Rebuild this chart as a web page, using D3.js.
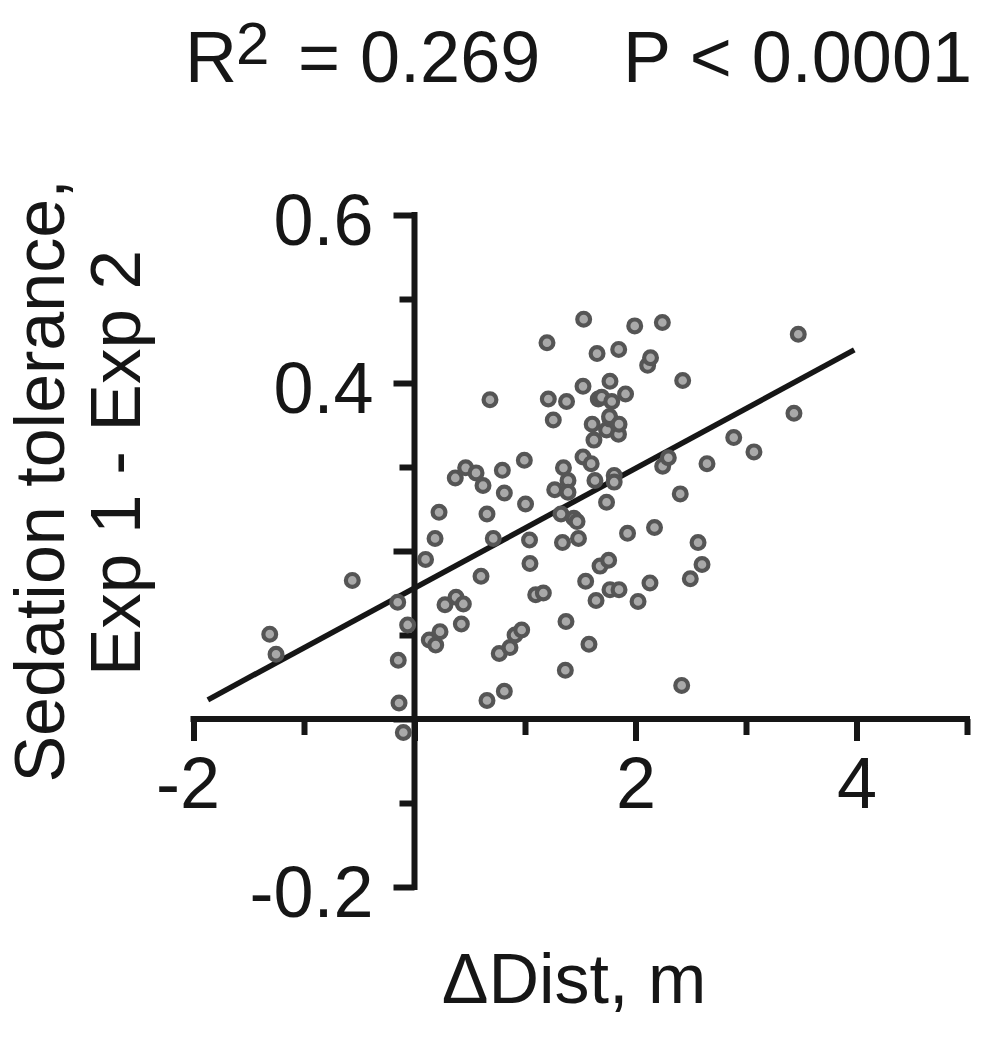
<!DOCTYPE html>
<html><head><meta charset="utf-8">
<script src="https://cdn.jsdelivr.net/npm/d3@7"></script>
<style>body{margin:0;background:#fff}svg{display:block}</style>
</head><body>
<svg id="chart" width="983" height="1050"></svg>
<script>
// ---- data (ΔDist, m  vs  Sedation tolerance Exp1 - Exp2) ----
const xValues = [-1.310,-1.253,-0.563,-0.152,-0.147,-0.140,-0.101,-0.062,0.100,0.134,
0.186,0.192,0.222,0.231,0.276,0.369,0.376,0.424,0.442,0.463,
0.557,0.620,0.602,0.656,0.656,0.683,0.713,0.767,0.795,0.813,
0.813,0.864,0.910,0.970,0.994,1.005,1.041,1.045,1.097,1.166,
1.199,1.211,1.256,1.269,1.326,1.339,1.348,1.365,1.371,1.376,
1.389,1.389,1.442,1.471,1.484,1.525,1.525,1.531,1.549,1.579,
1.599,1.608,1.624,1.633,1.643,1.652,1.663,1.694,1.679,1.738,
1.738,1.757,1.769,1.769,1.765,1.769,1.785,1.807,1.807,1.846,
1.848,1.851,1.851,1.910,1.928,1.993,2.023,2.110,2.136,2.131,
2.172,2.243,2.246,2.297,2.405,2.418,2.427,2.496,2.566,2.602,
2.647,2.889,3.072,3.434,3.473];
const yValues = [0.101,0.077,0.165,0.139,0.070,0.019,-0.016,0.112,0.190,0.094,
0.215,0.088,0.246,0.104,0.136,0.287,0.145,0.113,0.137,0.299,
0.293,0.278,0.170,0.244,0.022,0.380,0.215,0.078,0.296,0.269,
0.033,0.085,0.100,0.106,0.308,0.256,0.213,0.185,0.148,0.150,
0.448,0.381,0.356,0.273,0.244,0.210,0.299,0.058,0.116,0.378,
0.284,0.270,0.239,0.235,0.215,0.312,0.396,0.476,0.164,0.089,
0.304,0.351,0.332,0.284,0.141,0.435,0.381,0.383,0.182,0.344,
0.258,0.189,0.402,0.357,0.360,0.154,0.378,0.290,0.282,0.339,
0.440,0.154,0.351,0.387,0.221,0.468,0.140,0.421,0.430,0.162,
0.228,0.472,0.301,0.311,0.268,0.040,0.403,0.167,0.210,0.184,
0.304,0.335,0.318,0.364,0.458];
// regression line
const fitIntercept = 0.156;
const fitSlope = 0.0712;
const fitRange = [-1.87, 3.98];
// axes
const xDomain = [-2, 5];
const yDomain = [-0.2, 0.6];
const xTicksMajor = [-2, 0, 2, 4];
const xTicksMinor = [-1, 1, 3, 5];
const xTickLabels = {"-2": "-2", "2": "2", "4": "4"};
const yTicksMajor = [0.6, 0.4, 0.2, 0, -0.2];
const yTicksMinor = [0.5, 0.3, 0.1, -0.1];
const yTickLabels = {"0.6": "0.6", "0.4": "0.4", "-0.2": "-0.2"};
const titleR = "R", titleSup = "2", titleVal = "= 0.269", titleP = "P < 0.0001";
const xLabel = "\u0394Dist, m";
const yLabel1 = "Sedation tolerance,";
const yLabel2 = "Exp 1 - Exp 2";

const FONT = "'Liberation Sans', Arial, Helvetica, sans-serif";
const INK = "#161616";
const svg = d3.select("#chart").style("font-family", FONT);

const x = d3.scaleLinear().domain(xDomain).range([193.5, 967]);
const y = d3.scaleLinear().domain(yDomain).range([887, 215]);
const x0 = x(0), y0 = y(0);
const AXW = 6;

// regression line (under the points)
svg.append("line")
  .attr("x1", x(fitRange[0])).attr("y1", y(fitIntercept + fitSlope * fitRange[0]))
  .attr("x2", x(fitRange[1])).attr("y2", y(fitIntercept + fitSlope * fitRange[1]))
  .attr("stroke", INK).attr("stroke-width", 5.5);

// x axis
const gx = svg.append("g").attr("transform", `translate(0,${y0})`);
gx.append("g").call(d3.axisBottom(x).tickValues(xTicksMajor).tickSize(22).tickSizeOuter(0)
    .tickFormat(d => xTickLabels[String(d)] || ""));
gx.append("g").call(d3.axisBottom(x).tickValues(xTicksMinor).tickSize(16).tickSizeOuter(0).tickFormat(""));
gx.selectAll(".domain").remove();
gx.selectAll(".tick line").attr("stroke", INK).attr("stroke-width", AXW);
gx.selectAll(".tick text").attr("y", 89).attr("dy", 0).attr("font-size", 72)
  .attr("dx", function() { return this.textContent.startsWith("-") ? -6 : 0; })
  .attr("fill", INK).style("font-family", FONT);
gx.append("line").attr("x1", x(xDomain[0]) - AXW / 2).attr("x2", x(xDomain[1]) + AXW / 2)
  .attr("stroke", INK).attr("stroke-width", AXW);

// y axis
const gy = svg.append("g").attr("transform", `translate(${x0},0)`);
gy.append("g").call(d3.axisLeft(y).tickValues(yTicksMajor).tickSize(21).tickSizeOuter(0)
    .tickFormat(d => yTickLabels[String(d)] || ""));
gy.append("g").call(d3.axisLeft(y).tickValues(yTicksMinor).tickSize(15).tickSizeOuter(0).tickFormat(""));
gy.selectAll(".domain").remove();
gy.selectAll(".tick line").attr("stroke", INK).attr("stroke-width", AXW);
gy.selectAll(".tick text").attr("x", -41).attr("dy", 29).attr("font-size", 72)
  .attr("fill", INK).attr("text-anchor", "end").style("font-family", FONT);
gy.append("line").attr("y1", y(yDomain[1]) - AXW / 2).attr("y2", y(yDomain[0]) + AXW / 2)
  .attr("stroke", INK).attr("stroke-width", AXW);

// points
svg.append("g").selectAll("circle")
  .data(xValues.map((d, i) => [d, yValues[i]]))
  .join("circle")
  .attr("cx", d => x(d[0])).attr("cy", d => y(d[1]))
  .attr("r", 6.4)
  .attr("fill", "#a9a9a9").attr("stroke", "#555555").attr("stroke-width", 4.2);

// title
const tg = svg.append("g").attr("font-size", 72).attr("fill", INK);
tg.append("text").attr("x", 185).attr("y", 82).text(titleR);
tg.append("text").attr("x", 236).attr("y", 64).attr("font-size", 60).text(titleSup);
tg.append("text").attr("x", 298).attr("y", 82).text(titleVal);
tg.append("text").attr("x", 972).attr("y", 82).attr("text-anchor", "end").text(titleP);

// x label
svg.append("text").attr("x", 574).attr("y", 1003).attr("text-anchor", "middle")
  .attr("font-size", 70).attr("fill", INK).text(xLabel);

// y label (two lines, rotated)
svg.append("text").attr("transform", "translate(64,481) rotate(-90)")
  .attr("text-anchor", "middle").attr("font-size", 70).attr("fill", INK).text(yLabel1);
svg.append("text").attr("transform", "translate(140,463) rotate(-90)")
  .attr("text-anchor", "middle").attr("font-size", 71).attr("fill", INK).text(yLabel2);
</script>
</body></html>
